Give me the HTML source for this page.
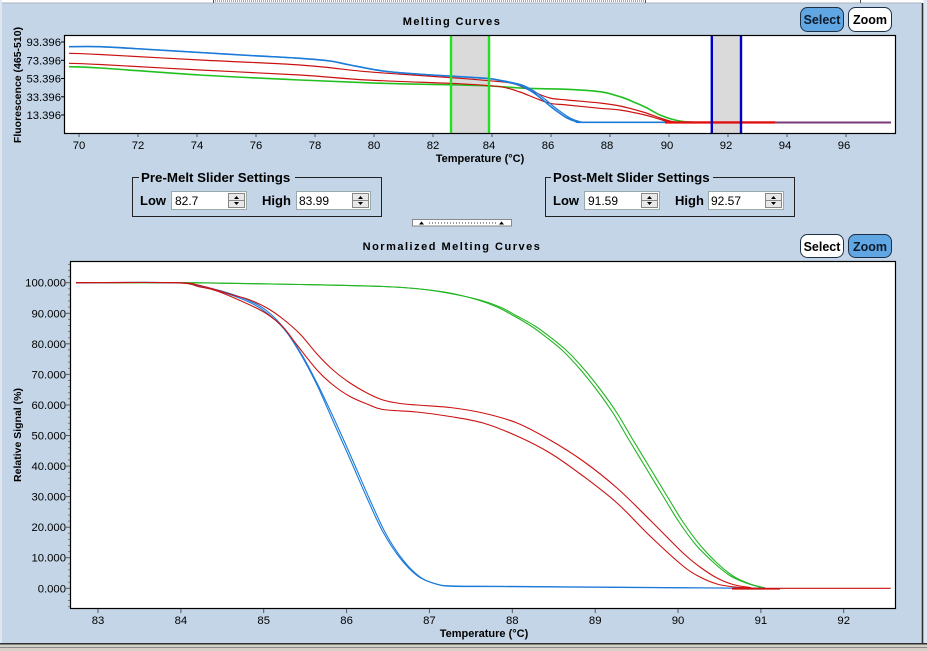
<!DOCTYPE html>
<html><head><meta charset="utf-8"><style>
html,body{margin:0;padding:0;width:927px;height:651px;overflow:hidden;background:#c3d5e7;}
svg{display:block;font-family:"Liberation Sans",Arial,sans-serif;}
</style></head><body>
<svg id="main" width="927" height="651" viewBox="0 0 927 651" xmlns="http://www.w3.org/2000/svg">
<rect x="0" y="0" width="927" height="651" fill="#c3d5e7"/>
<rect x="0" y="0" width="927" height="3" fill="#ffffff"/>
<line x1="0" y1="3" x2="922" y2="3" stroke="#a8b4c0" stroke-width="1"/>
<line x1="215" y1="1" x2="644" y2="1" stroke="#555" stroke-width="1" stroke-dasharray="1,1"/>
<line x1="213.5" y1="0" x2="213.5" y2="3" stroke="#555"/>
<line x1="645.5" y1="0" x2="645.5" y2="3" stroke="#555"/>
<line x1="860.5" y1="0" x2="860.5" y2="3" stroke="#555"/>
<rect x="0" y="0" width="2" height="644" fill="#dfe8f1"/>
<line x1="922.5" y1="3" x2="922.5" y2="644" stroke="#2a2a2a" stroke-width="1.5"/>
<rect x="923.5" y="0" width="4" height="651" fill="#dde7f1"/>
<rect x="0" y="644" width="927" height="7" fill="#d4d0c8"/>
<line x1="0" y1="643.8" x2="927" y2="643.8" stroke="#303030" stroke-width="1.5"/>
<line x1="0" y1="647.5" x2="927" y2="647.5" stroke="#8a8a8a" stroke-width="1"/>

<!-- ================= UPPER CHART ================= -->
<text x="452" y="25" text-anchor="middle" font-size="11" font-weight="bold" letter-spacing="1.4" fill="#000">Melting Curves</text>
<rect x="800.5" y="7.5" width="43" height="24" rx="7" fill="#5fa6e3" stroke="#1b2f46" stroke-width="1"/>
<text x="822" y="24" text-anchor="middle" font-size="12.5" font-weight="bold" fill="#0d1a2a">Select</text>
<rect x="848.5" y="7.5" width="43" height="24" rx="7" fill="#ffffff" stroke="#1b2f46" stroke-width="1"/>
<text x="870" y="24" text-anchor="middle" font-size="12.5" font-weight="bold" fill="#000">Zoom</text>

<rect x="64" y="35" width="832" height="99" fill="#ffffff"/>
<rect x="452" y="36" width="37" height="97" fill="#dadada"/>
<rect x="712" y="36" width="29" height="97" fill="#dadada"/>
<g fill="none" stroke-width="1.6" stroke-linejoin="round">
<polyline class="s" stroke="#21c021" points="69,66.7 100,68 200,75 300,80 383,83.3 460,85 490,86 527,88.3 567,89.3 600,91.7 620,96.7 633,101.7 647,108 660,115 677,120.5 693,122.3"/>
<polyline class="s" stroke="#cc1111" stroke-width="1.2" points="69,63.3 100,64.5 200,70 300,75 367,80 460,83.8 500,86.7 520,92 535,98 550,103.3 567,105 600,108.3 620,110 647,115.5 662,120 672,122.3"/>
<polyline class="s" stroke="#cc1111" stroke-width="1.2" points="69,53.3 100,54.5 200,60 300,65 367,71.7 420,75.5 460,78.3 500,81.7 515,84 533,91.7 550,98 567,100 600,103 620,106 643,112 660,118 672,121.5 680,122.3"/>
<polyline class="s" stroke="#1c7ad8" stroke-width="1.2" points="69,46.7 100,46.7 150,49.5 200,52.5 250,55.5 300,58.3 330,61 350,65 383,71 417,74 460,76.7 490,78.7 505,81 522,85 535,91.7 546,100 553,106 561,112 570,118 580,121.7 588,122.3 670,122.3"/>
<polyline class="s" stroke="#1c7ad8" stroke-width="1.6" points="69,46.7 100,46.7 150,49.5 200,52.5 250,55.5 300,58.3 330,61 350,65 383,71 417,74 460,76.7 490,78.7 502,81 519,85 532,91.7 543,100 550,106 558,112 567,118 577,121.7 585,122.3 670,122.3"/>
<line x1="665" y1="122.4" x2="775" y2="122.4" stroke="#e01010" stroke-width="2.4"/>
<line x1="775" y1="122.5" x2="891" y2="122.5" stroke="#7a3a78" stroke-width="2"/>
</g>
<line x1="451" y1="35" x2="451" y2="134" stroke="#22e022" stroke-width="2.4"/>
<line x1="489" y1="35" x2="489" y2="134" stroke="#22e022" stroke-width="2.4"/>
<line x1="711.8" y1="35" x2="711.8" y2="134" stroke="#0000c8" stroke-width="2.4"/>
<line x1="741" y1="35" x2="741" y2="134" stroke="#0000c8" stroke-width="2.4"/>
<rect x="64.5" y="35.5" width="831" height="98" fill="none" stroke="#000" stroke-width="1.2"/>
<g stroke="#000" stroke-width="1">
<line x1="61" y1="42" x2="64" y2="42"/><line x1="61" y1="60.3" x2="64" y2="60.3"/><line x1="61" y1="78.5" x2="64" y2="78.5"/><line x1="61" y1="96.8" x2="64" y2="96.8"/><line x1="61" y1="115" x2="64" y2="115"/>
</g>
<g font-size="11.3" fill="#000" text-anchor="end">
<text x="61" y="46">93.396</text><text x="61" y="64.3">73.396</text><text x="61" y="82.5">53.396</text><text x="61" y="100.8">33.396</text><text x="61" y="119">13.396</text>
</g>
<g stroke="#555" stroke-width="1">
<line x1="79" y1="134" x2="79" y2="137"/><line x1="138" y1="134" x2="138" y2="137"/><line x1="197" y1="134" x2="197" y2="137"/><line x1="256" y1="134" x2="256" y2="137"/><line x1="315" y1="134" x2="315" y2="137"/><line x1="374" y1="134" x2="374" y2="137"/><line x1="433" y1="134" x2="433" y2="137"/><line x1="492" y1="134" x2="492" y2="137"/><line x1="551" y1="134" x2="551" y2="137"/><line x1="610" y1="134" x2="610" y2="137"/><line x1="669" y1="134" x2="669" y2="137"/><line x1="728" y1="134" x2="728" y2="137"/><line x1="787" y1="134" x2="787" y2="137"/><line x1="846" y1="134" x2="846" y2="137"/>
</g>
<g font-size="11.3" fill="#000" text-anchor="middle">
<text x="79" y="149">70</text><text x="138" y="149">72</text><text x="197" y="149">74</text><text x="256" y="149">76</text><text x="315" y="149">78</text><text x="374" y="149">80</text><text x="433" y="149">82</text><text x="489" y="149">84</text><text x="548" y="149">86</text><text x="607" y="149">88</text><text x="667" y="149">90</text><text x="726" y="149">92</text><text x="785" y="149">94</text><text x="844" y="149">96</text>
</g>
<text x="480" y="162" text-anchor="middle" font-size="11" font-weight="bold" fill="#000">Temperature (°C)</text>
<text transform="translate(21,85) rotate(-90)" text-anchor="middle" font-size="10.5" font-weight="bold" fill="#000">Fluorescence (465-510)</text>

<!-- ================= SLIDER SETTINGS ================= -->
<g font-size="13" fill="#000">
<rect x="132.5" y="177.5" width="249" height="39" fill="none" stroke="#222" stroke-width="1"/>
<rect x="139" y="170" width="156" height="14" fill="#c3d5e7"/>
<text x="141" y="182" font-size="13.3" font-weight="bold">Pre-Melt Slider Settings</text>
<text x="140" y="205" font-weight="bold">Low</text>
<rect x="171.5" y="191.5" width="75" height="18" fill="#fff" stroke="#9aa" stroke-width="1"/>
<text x="175" y="205" font-size="12">82.7</text>
<text x="262" y="205" font-weight="bold">High</text>
<rect x="296.5" y="191.5" width="74" height="18" fill="#fff" stroke="#9aa" stroke-width="1"/>
<text x="299" y="205" font-size="12">83.99</text>

<rect x="545.5" y="177.5" width="249" height="39" fill="none" stroke="#222" stroke-width="1"/>
<rect x="551" y="170" width="162" height="14" fill="#c3d5e7"/>
<text x="553" y="182" font-size="13.3" font-weight="bold">Post-Melt Slider Settings</text>
<text x="553" y="205" font-weight="bold">Low</text>
<rect x="584.5" y="191.5" width="75" height="18" fill="#fff" stroke="#9aa" stroke-width="1"/>
<text x="588" y="205" font-size="12">91.59</text>
<text x="675" y="205" font-weight="bold">High</text>
<rect x="708.5" y="191.5" width="75" height="18" fill="#fff" stroke="#9aa" stroke-width="1"/>
<text x="711" y="205" font-size="12">92.57</text>
</g>
<g>
<rect x="228.5" y="193.5" width="16" height="7" fill="#e8e8e8" stroke="#888"/><rect x="228.5" y="200.5" width="16" height="7" fill="#e8e8e8" stroke="#888"/>
<path d="M234 199 L236.5 196 L239 199Z M234 202 L236.5 205 L239 202Z" fill="#000"/>
<rect x="352.5" y="193.5" width="16" height="7" fill="#e8e8e8" stroke="#888"/><rect x="352.5" y="200.5" width="16" height="7" fill="#e8e8e8" stroke="#888"/>
<path d="M358 199 L360.5 196 L363 199Z M358 202 L360.5 205 L363 202Z" fill="#000"/>
<rect x="641.5" y="193.5" width="16" height="7" fill="#e8e8e8" stroke="#888"/><rect x="641.5" y="200.5" width="16" height="7" fill="#e8e8e8" stroke="#888"/>
<path d="M647 199 L649.5 196 L652 199Z M647 202 L649.5 205 L652 202Z" fill="#000"/>
<rect x="765.5" y="193.5" width="16" height="7" fill="#e8e8e8" stroke="#888"/><rect x="765.5" y="200.5" width="16" height="7" fill="#e8e8e8" stroke="#888"/>
<path d="M771 199 L773.5 196 L776 199Z M771 202 L773.5 205 L776 202Z" fill="#000"/>
</g>
<rect x="412.5" y="219.5" width="99" height="6.5" fill="#fff" stroke="#888"/>
<path d="M419 224.5 L421.5 221.5 L424 224.5Z M499 224.5 L501.5 221.5 L504 224.5Z" fill="#000"/>
<line x1="429" y1="223" x2="496" y2="223" stroke="#333" stroke-dasharray="1,2"/>

<!-- ================= LOWER CHART ================= -->
<text x="452" y="250" text-anchor="middle" font-size="11" font-weight="bold" letter-spacing="1.5" fill="#000">Normalized Melting Curves</text>
<rect x="800.5" y="234.5" width="43" height="23" rx="7" fill="#ffffff" stroke="#1b2f46" stroke-width="1"/>
<text x="822" y="251" text-anchor="middle" font-size="12.5" font-weight="bold" fill="#000">Select</text>
<rect x="848.5" y="234.5" width="43" height="23" rx="7" fill="#5fa6e3" stroke="#1b2f46" stroke-width="1"/>
<text x="870" y="251" text-anchor="middle" font-size="12.5" font-weight="bold" fill="#0d1a2a">Zoom</text>

<rect x="70" y="261" width="826" height="348" fill="#ffffff"/>
<g fill="none" stroke-width="1.1" stroke-linejoin="round">
<polyline class="s" stroke="#22b522" points="76,282.7 180,282.7 230,283.3 300,284.5 383,286.5 420,289 450,293.5 480,300 500,307 517,316 535,326 550,337 567,351 583,368 600,389 617,413 633,440 650,468 667,496 683,522 700,545 717,563 733,576 745,582 755,585.5 765,587.8"/>
<polyline class="s" stroke="#22b522" points="76,282.7 180,282.7 230,283.3 300,284.5 383,286.5 420,289 450,293 478,300 497,307 514,316 531,326 546,337 563,351 579,368 596,389 613,413 629,440 646,468 663,496 679,522 696,545 713,562 729,575 741,581 752,585 762,587.5"/>
<polyline class="s" stroke="#1c7ad8" points="76,282.7 175,282.7 200,286 225,292 250,301 267,311 283,327 300,353 317,385 333,421 350,459 367,498 383,532 400,558 417,575.5 433,583 450,585.8 500,586.3 600,587 700,587.8 765,588.3"/>
<polyline class="s" stroke="#1c7ad8" points="76,282.7 175,282.7 200,286.5 225,293 250,302.5 267,313 284,329 302,355 319,387 336,423 353,461 370,500 386,534 403,560 420,577 436,584 452,586.3 500,586.6 600,587.3 700,588 765,588.3"/>
<polyline class="s" stroke="#cc1111" points="76,282.7 175,282.7 200,285.5 233,295 250,300 267,308 283,319 300,334 317,354 333,370 350,383 367,393 383,400 400,403.5 417,405 450,407.5 483,413 517,423 550,440 583,461 617,488 650,520 683,553 700,567 717,578 733,584.5 750,587.5 760,588.3 890.7,588.3"/>
<polyline class="s" stroke="#cc1111" points="76,282.7 175,282.7 200,287 217,291 250,305 267,314 283,327 297,345 317,370 333,385 350,396.5 367,404 383,409.5 417,412 450,416.5 483,423 517,436 550,453 583,476 617,503 650,536 683,566 700,577 717,584 733,586.8 750,588 760,588.5"/>
<line x1="732" y1="588.8" x2="780" y2="588.8" stroke="#cc1111" stroke-width="1.6"/>
</g>
<rect x="70.5" y="261.5" width="825" height="347" fill="none" stroke="#000" stroke-width="1.2"/>
<g stroke="#555" stroke-width="1">
<line x1="66" y1="282.7" x2="70" y2="282.7"/><line x1="66" y1="313.3" x2="70" y2="313.3"/><line x1="66" y1="343.8" x2="70" y2="343.8"/><line x1="66" y1="374.4" x2="70" y2="374.4"/><line x1="66" y1="405" x2="70" y2="405"/><line x1="66" y1="435.5" x2="70" y2="435.5"/><line x1="66" y1="466.1" x2="70" y2="466.1"/><line x1="66" y1="496.6" x2="70" y2="496.6"/><line x1="66" y1="527.2" x2="70" y2="527.2"/><line x1="66" y1="557.7" x2="70" y2="557.7"/><line x1="66" y1="588.3" x2="70" y2="588.3"/>
</g>
<g stroke="#777" stroke-width="1">
<line x1="68" y1="264.4" x2="70" y2="264.4"/><line x1="68" y1="270.4" x2="70" y2="270.4"/><line x1="68" y1="276.6" x2="70" y2="276.6"/>
<line x1="68" y1="288.8" x2="70" y2="288.8"/><line x1="68" y1="294.9" x2="70" y2="294.9"/><line x1="68" y1="301" x2="70" y2="301"/><line x1="68" y1="307.1" x2="70" y2="307.1"/>
<line x1="68" y1="319.4" x2="70" y2="319.4"/><line x1="68" y1="325.5" x2="70" y2="325.5"/><line x1="68" y1="331.6" x2="70" y2="331.6"/><line x1="68" y1="337.7" x2="70" y2="337.7"/>
<line x1="68" y1="349.9" x2="70" y2="349.9"/><line x1="68" y1="356" x2="70" y2="356"/><line x1="68" y1="362.1" x2="70" y2="362.1"/><line x1="68" y1="368.3" x2="70" y2="368.3"/>
<line x1="68" y1="380.5" x2="70" y2="380.5"/><line x1="68" y1="386.6" x2="70" y2="386.6"/><line x1="68" y1="392.7" x2="70" y2="392.7"/><line x1="68" y1="398.8" x2="70" y2="398.8"/>
<line x1="68" y1="411.1" x2="70" y2="411.1"/><line x1="68" y1="417.2" x2="70" y2="417.2"/><line x1="68" y1="423.3" x2="70" y2="423.3"/><line x1="68" y1="429.4" x2="70" y2="429.4"/>
<line x1="68" y1="441.6" x2="70" y2="441.6"/><line x1="68" y1="447.7" x2="70" y2="447.7"/><line x1="68" y1="453.8" x2="70" y2="453.8"/><line x1="68" y1="460" x2="70" y2="460"/>
<line x1="68" y1="472.2" x2="70" y2="472.2"/><line x1="68" y1="478.3" x2="70" y2="478.3"/><line x1="68" y1="484.4" x2="70" y2="484.4"/><line x1="68" y1="490.5" x2="70" y2="490.5"/>
<line x1="68" y1="502.7" x2="70" y2="502.7"/><line x1="68" y1="508.8" x2="70" y2="508.8"/><line x1="68" y1="515" x2="70" y2="515"/><line x1="68" y1="521.1" x2="70" y2="521.1"/>
<line x1="68" y1="533.3" x2="70" y2="533.3"/><line x1="68" y1="539.4" x2="70" y2="539.4"/><line x1="68" y1="545.5" x2="70" y2="545.5"/><line x1="68" y1="551.6" x2="70" y2="551.6"/>
<line x1="68" y1="563.8" x2="70" y2="563.8"/><line x1="68" y1="569.9" x2="70" y2="569.9"/><line x1="68" y1="576.1" x2="70" y2="576.1"/><line x1="68" y1="582.2" x2="70" y2="582.2"/>
<line x1="68" y1="594.4" x2="70" y2="594.4"/><line x1="68" y1="600.5" x2="70" y2="600.5"/><line x1="68" y1="606.6" x2="70" y2="606.6"/>
</g>
<g font-size="11.3" fill="#000" text-anchor="end">
<text x="66" y="286.7">100.000</text><text x="66" y="317.3">90.000</text><text x="66" y="347.8">80.000</text><text x="66" y="378.4">70.000</text><text x="66" y="409">60.000</text><text x="66" y="439.5">50.000</text><text x="66" y="470.1">40.000</text><text x="66" y="500.6">30.000</text><text x="66" y="531.2">20.000</text><text x="66" y="561.7">10.000</text><text x="66" y="592.3">0.000</text>
</g>
<g stroke="#555" stroke-width="1">
<line x1="98" y1="609" x2="98" y2="613"/><line x1="180.9" y1="609" x2="180.9" y2="613"/><line x1="263.7" y1="609" x2="263.7" y2="613"/><line x1="346.6" y1="609" x2="346.6" y2="613"/><line x1="429.4" y1="609" x2="429.4" y2="613"/><line x1="512.3" y1="609" x2="512.3" y2="613"/><line x1="595.2" y1="609" x2="595.2" y2="613"/><line x1="678" y1="609" x2="678" y2="613"/><line x1="760.9" y1="609" x2="760.9" y2="613"/><line x1="843.7" y1="609" x2="843.7" y2="613"/>
</g>
<g font-size="11.3" fill="#000" text-anchor="middle">
<text x="98" y="624">83</text><text x="180.9" y="624">84</text><text x="263.7" y="624">85</text><text x="346.6" y="624">86</text><text x="429.4" y="624">87</text><text x="512.3" y="624">88</text><text x="595.2" y="624">89</text><text x="678" y="624">90</text><text x="760.9" y="624">91</text><text x="843.7" y="624">92</text>
</g>
<text x="484" y="637" text-anchor="middle" font-size="11" font-weight="bold" fill="#000">Temperature (°C)</text>
<text transform="translate(21,435) rotate(-90)" text-anchor="middle" font-size="10.5" font-weight="bold" fill="#000">Relative Signal (%)</text>
</svg>
<script>
(function(){
  var ns="http://www.w3.org/2000/svg";
  var pls=document.querySelectorAll("polyline.s");
  for(var k=0;k<pls.length;k++){
    var pl=pls[k];
    var raw=pl.getAttribute("points").trim().split(/\s+/);
    var p=raw.map(function(s){var a=s.split(",");return [parseFloat(a[0]),parseFloat(a[1])];});
    var d="M"+p[0][0]+","+p[0][1];
    for(var i=0;i<p.length-1;i++){
      var p0=p[i>0?i-1:i],p1=p[i],p2=p[i+1],p3=p[i+2<p.length?i+2:i+1];
      var t=0.5/3;
      var c1x=p1[0]+(p2[0]-p0[0])*t,c1y=p1[1]+(p2[1]-p0[1])*t;
      var c2x=p2[0]-(p3[0]-p1[0])*t,c2y=p2[1]-(p3[1]-p1[1])*t;
      d+=" C"+c1x.toFixed(2)+","+c1y.toFixed(2)+" "+c2x.toFixed(2)+","+c2y.toFixed(2)+" "+p2[0]+","+p2[1];
    }
    var path=document.createElementNS(ns,"path");
    path.setAttribute("d",d);
    path.setAttribute("fill","none");
    path.setAttribute("stroke",pl.getAttribute("stroke"));
    var sw=pl.getAttribute("stroke-width");
    if(sw)path.setAttribute("stroke-width",sw);
    pl.parentNode.replaceChild(path,pl);
  }
})();
</script>
</body></html>
